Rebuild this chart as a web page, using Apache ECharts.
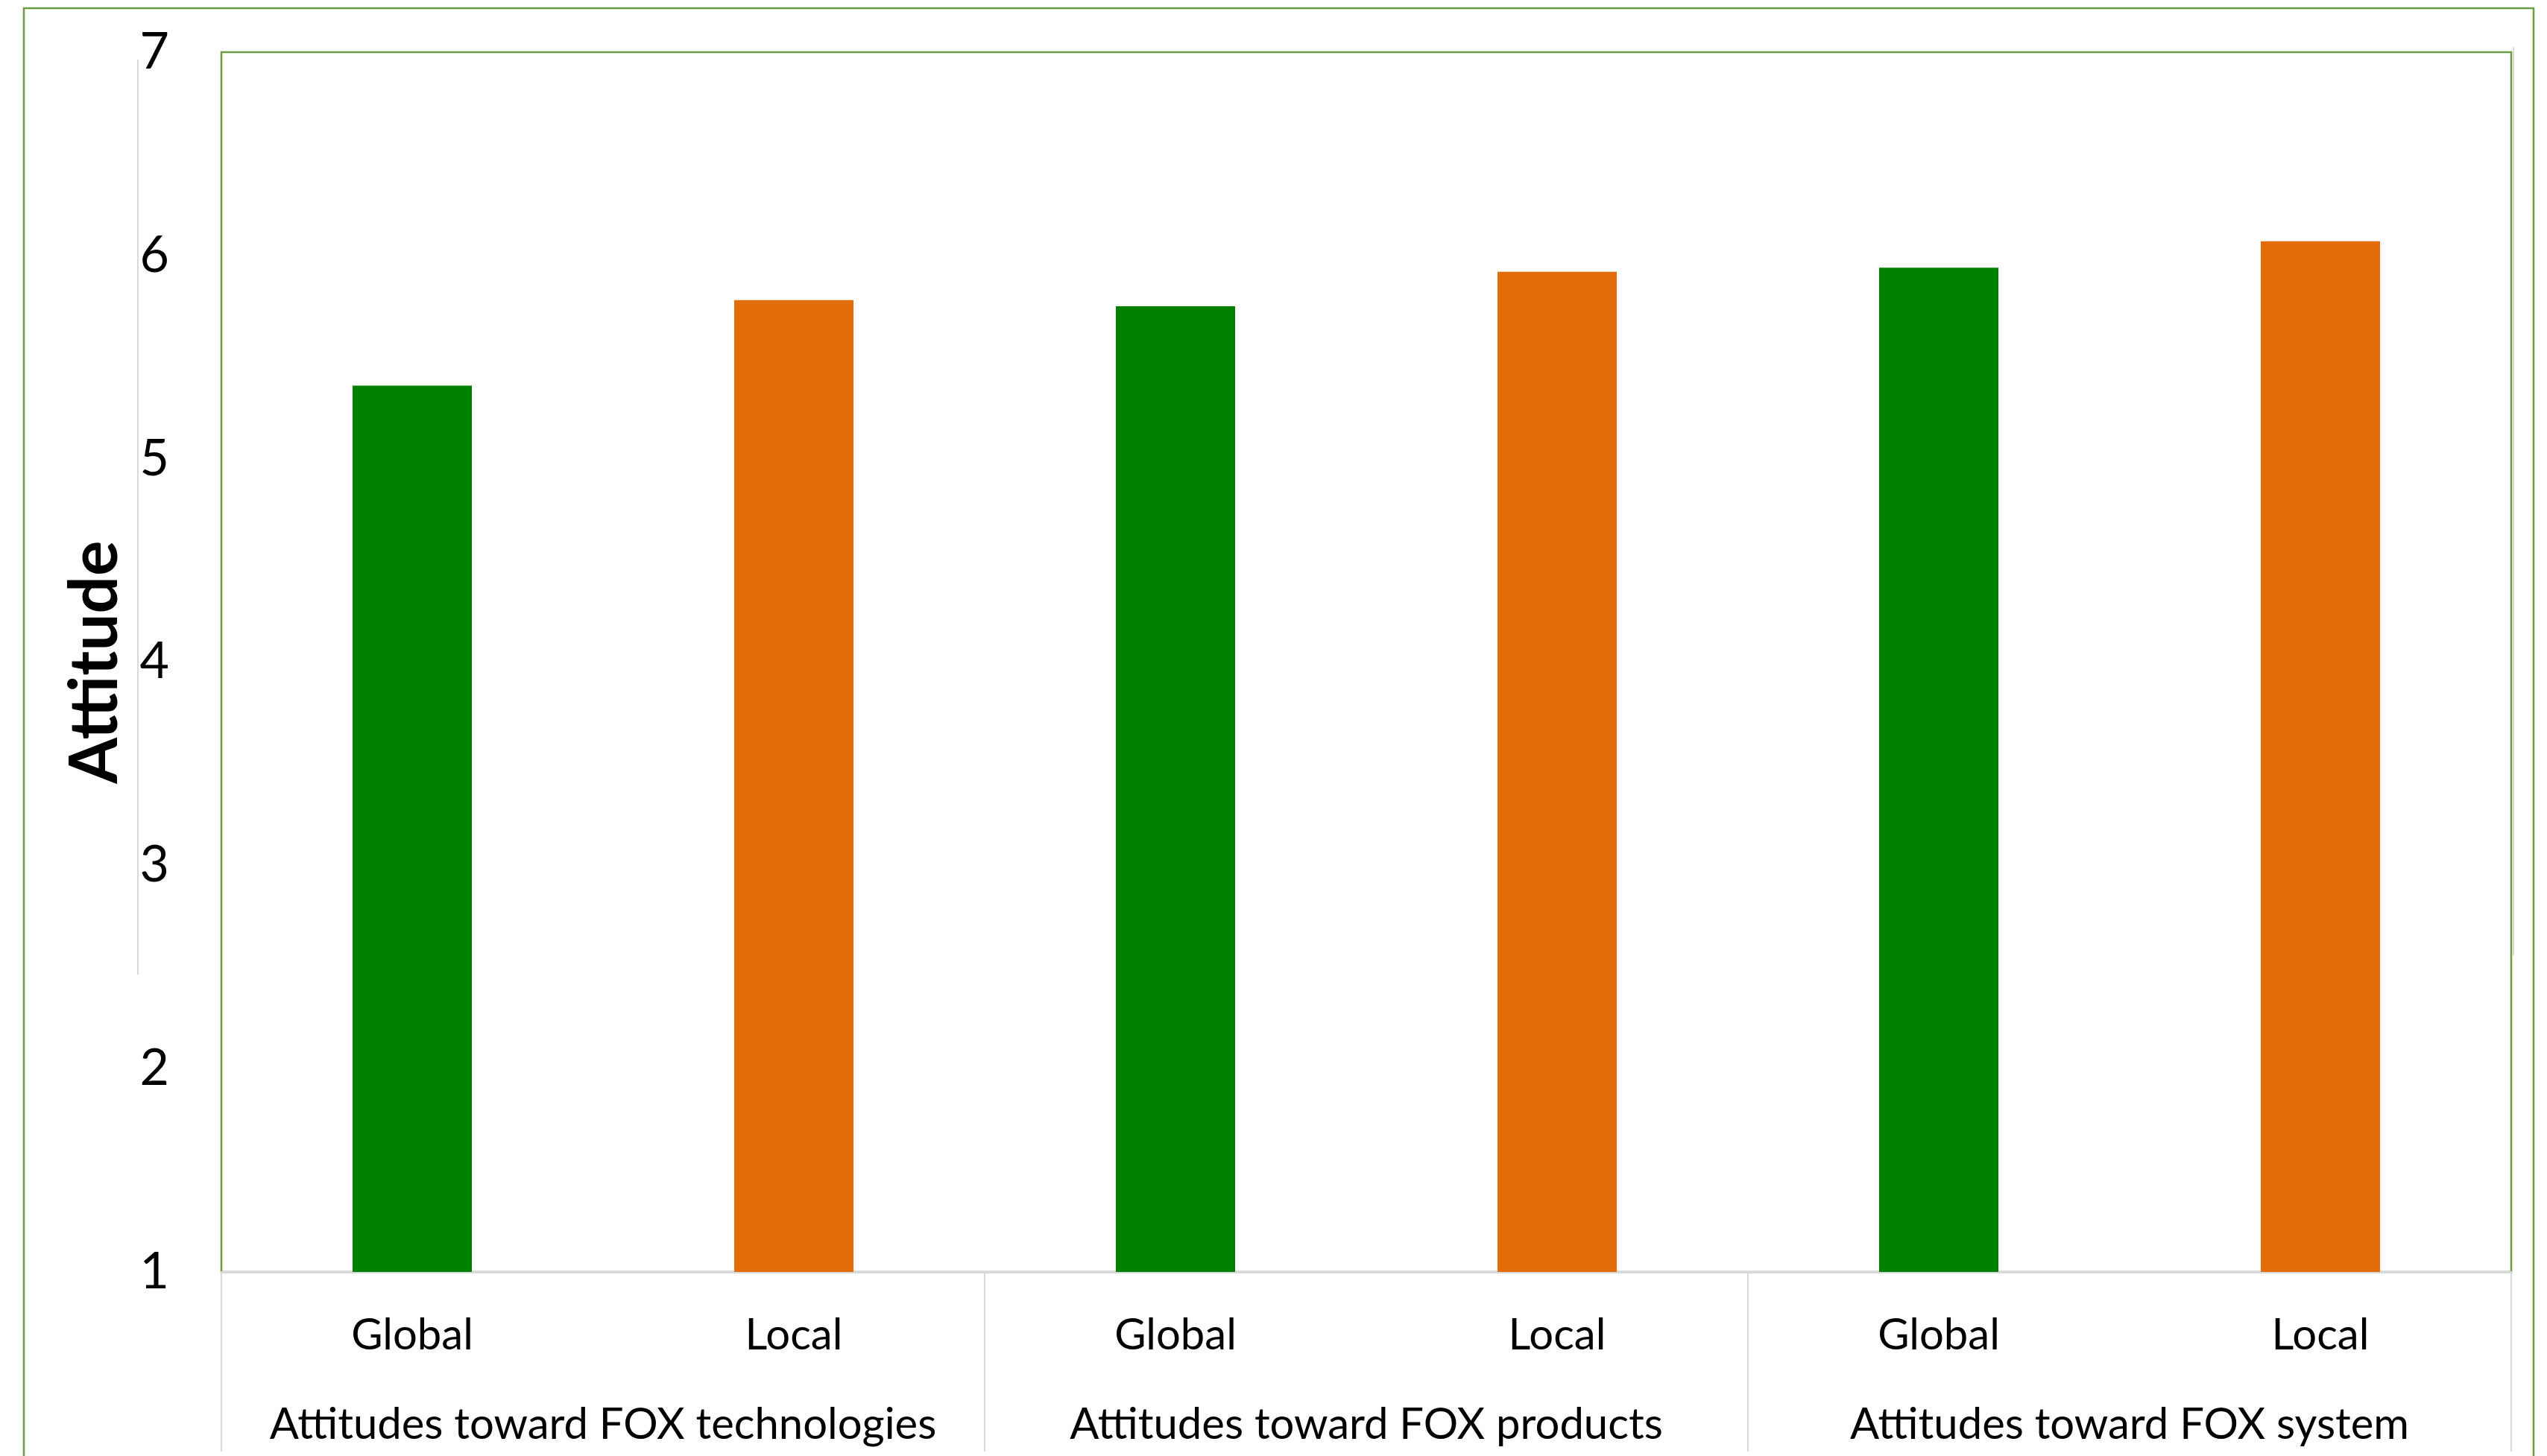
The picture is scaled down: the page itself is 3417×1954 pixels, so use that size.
<!DOCTYPE html>
<html>
<head>
<meta charset="utf-8">
<script src="https://cdn.jsdelivr.net/npm/echarts@6/dist/echarts.min.js"></script>
<style>
  html, body { margin: 0; padding: 0; background: #ffffff; }
  #chart { width: 3417px; height: 1954px; }
</style>
</head>
<body>
<div id="chart"></div>
<script>
// Attitude scores by domain and product origin
const groups = ['Attitudes toward FOX technologies', 'Attitudes toward FOX products', 'Attitudes toward FOX system'];
const origins = ['Global', 'Local'];
const globalValues = [5.36, 5.75, 5.94];
const localValues = [5.78, 5.92, 6.07];
const yTicks = [1, 2, 3, 4, 5, 6, 7];

const originColors = { Global: '#008000', Local: '#E36C0A' };
const frameGreen = '#6B9B44';
const lightGray = '#D9D9D9';
const fontFamily = 'Lato, "Noto Sans", sans-serif';

// Flatten into one Global/Local pair per domain
const categories = [];
const barData = [];
groups.forEach((g, i) => {
  origins.forEach((o) => {
    categories.push(o);
    const v = o === 'Global' ? globalValues[i] : localValues[i];
    barData.push({ value: v, itemStyle: { color: originColors[o] } });
  });
});

const chart = echarts.init(document.getElementById('chart'), null, { renderer: 'canvas' });

chart.setOption({
  backgroundColor: '#ffffff',
  animation: false,
  grid: {
    left: 297, top: 70, right: 48, bottom: 247,
    show: true, borderColor: frameGreen, borderWidth: 2.5, backgroundColor: 'transparent'
  },
  xAxis: [
    {
      type: 'category',
      data: categories,
      position: 'bottom',
      axisLine: { show: true, lineStyle: { color: lightGray, width: 3 } },
      axisTick: { show: false },
      axisLabel: { interval: 0, margin: 56, fontSize: 58, color: '#000', fontFamily: fontFamily }
    },
    {
      type: 'category',
      data: groups,
      position: 'bottom',
      axisLine: { show: false },
      axisTick: { show: true, interval: 0, length: 241, lineStyle: { color: lightGray, width: 2 } },
      axisLabel: { interval: 0, hideOverlap: false, margin: 176, fontSize: 58, color: '#000', fontFamily: fontFamily }
    }
  ],
  yAxis: {
    type: 'value',
    min: yTicks[0],
    max: yTicks[yTicks.length - 1],
    interval: 1,
    name: 'Attitude',
    nameLocation: 'middle',
    nameRotate: 90,
    nameGap: 124,
    nameTextStyle: { fontSize: 89, fontWeight: 'bold', color: '#000', fontFamily: fontFamily },
    axisLine: { show: false },
    axisTick: { show: false },
    splitLine: { show: false },
    axisLabel: { margin: 70, fontSize: 68, color: '#000', fontFamily: fontFamily }
  },
  series: [{
    type: 'bar',
    xAxisIndex: 0,
    data: barData,
    barWidth: '31.25%'
  }],
  graphic: [
    // outer chart frame
    { type: 'rect', z: 100, shape: { x: 32, y: 11, width: 3367, height: 2100 },
      style: { fill: 'none', stroke: frameGreen, lineWidth: 2.5 } },
    // faint chart-area edges
    { type: 'line', z: 100, shape: { x1: 185, y1: 80, x2: 185, y2: 1308 },
      style: { stroke: lightGray, lineWidth: 2 } },
    { type: 'line', z: 100, shape: { x1: 3372, y1: 63, x2: 3372, y2: 1282 },
      style: { stroke: lightGray, lineWidth: 2 } }
  ]
});
</script>
</body>
</html>
